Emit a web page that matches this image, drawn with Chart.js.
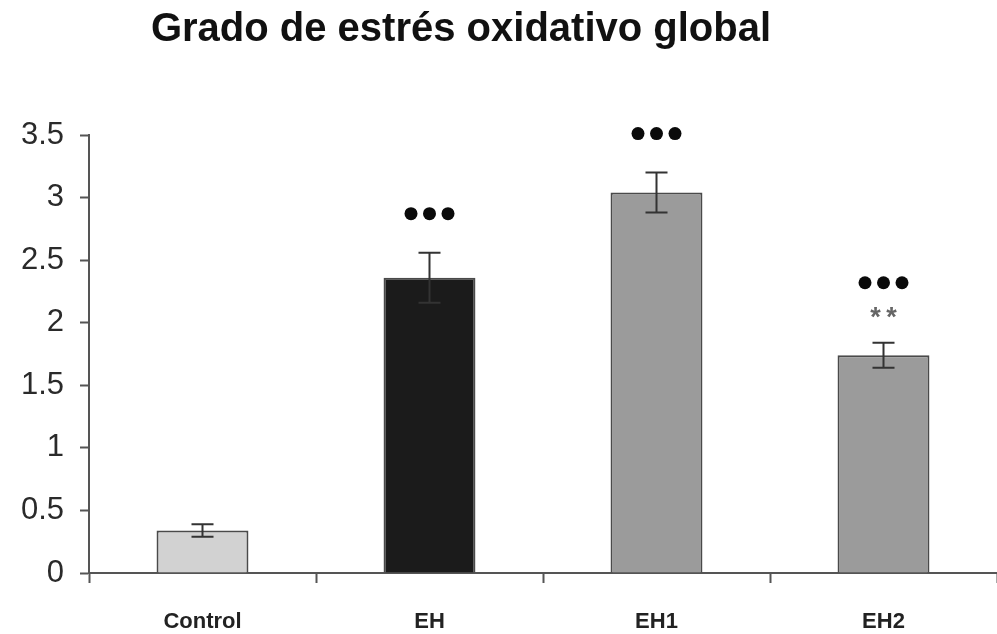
<!DOCTYPE html>
<html lang="es">
<head>
<meta charset="utf-8">
<title>Grado de estrés oxidativo global</title>
<script src="https://cdn.jsdelivr.net/npm/chart.js@4.4.1/dist/chart.umd.min.js"></script>
<style>
  html, body { margin: 0; padding: 0; background: #ffffff; }
  #wrap { width: 997px; height: 634px; position: relative; }
</style>
</head>
<body>
<div id="wrap"><canvas id="grafico" width="997" height="634"></canvas></div>
<script>
// Grupos y valores medios del índice de estrés oxidativo
const grupos = ['Control', 'EH', 'EH1', 'EH2'];
const medias = [0.34, 2.36, 3.04, 1.74];
const errores = [0.05, 0.20, 0.16, 0.10];
const coloresBarra = ['#d2d2d2', '#1b1b1b', '#9b9b9b', '#9b9b9b'];
// Marcas de significación sobre cada barra
const puntosSig = [0, 3, 3, 3];
const asteriscosSig = ['', '', '', '**'];
const titulo = 'Grado de estrés oxidativo global';
const marcasEjeY = [0, 0.5, 1, 1.5, 2, 2.5, 3, 3.5];

const FUENTE = "'Liberation Sans', Arial, Helvetica, sans-serif";

// Título del gráfico
const pluginTitulo = {
  id: 'tituloGrafico',
  afterDraw(chart) {
    const ctx = chart.ctx;
    ctx.save();
    ctx.font = 'bold 40px ' + FUENTE;
    ctx.fillStyle = '#111111';
    ctx.textAlign = 'center';
    ctx.textBaseline = 'alphabetic';
    ctx.fillText(titulo, 461, 41);
    ctx.restore();
  }
};

// Barras de error (media ± error)
const pluginErrores = {
  id: 'barrasError',
  afterDatasetsDraw(chart) {
    const ctx = chart.ctx;
    const y = chart.scales.y;
    const meta = chart.getDatasetMeta(0);
    ctx.save();
    ctx.strokeStyle = '#333333';
    ctx.lineWidth = 2;
    meta.data.forEach((barra, i) => {
      const x = barra.x;
      const yAlto = y.getPixelForValue(medias[i] + errores[i]);
      const yBajo = y.getPixelForValue(medias[i] - errores[i]);
      const semi = 11;
      ctx.beginPath();
      ctx.moveTo(x, yAlto); ctx.lineTo(x, yBajo);
      ctx.moveTo(x - semi, yAlto); ctx.lineTo(x + semi, yAlto);
      ctx.moveTo(x - semi, yBajo); ctx.lineTo(x + semi, yBajo);
      ctx.stroke();
    });
    ctx.restore();
  }
};

// Puntos y asteriscos de significación
const pluginSignificacion = {
  id: 'significacion',
  afterDatasetsDraw(chart) {
    const ctx = chart.ctx;
    const y = chart.scales.y;
    const meta = chart.getDatasetMeta(0);
    ctx.save();
    meta.data.forEach((barra, i) => {
      const x = barra.x;
      const yAlto = y.getPixelForValue(medias[i] + errores[i]);
      let yPuntos = yAlto - 39;
      if (asteriscosSig[i]) {
        const yAst = yAlto - 32;
        ctx.fillStyle = '#666666';
        ctx.font = 'bold 27px ' + FUENTE;
        ctx.textAlign = 'center';
        ctx.textBaseline = 'alphabetic';
        const chars = asteriscosSig[i].split('');
        const paso = 16;
        chars.forEach((c, k) => {
          const cx = x + (k - (chars.length - 1) / 2) * paso;
          ctx.fillText(c, cx, yAst + 15);
        });
        yPuntos = yAlto - 60;
      }
      const n = puntosSig[i];
      ctx.fillStyle = '#0a0a0a';
      for (let k = 0; k < n; k++) {
        const cx = x + (k - (n - 1) / 2) * 18.5;
        ctx.beginPath();
        ctx.arc(cx, yPuntos, 6.5, 0, Math.PI * 2);
        ctx.fill();
      }
    });
    ctx.restore();
  }
};

new Chart(document.getElementById('grafico'), {
  type: 'bar',
  data: {
    labels: grupos,
    datasets: [{
      data: medias,
      backgroundColor: coloresBarra,
      borderColor: '#4a4a4a',
      borderWidth: 2,
      borderSkipped: 'bottom',
      barPercentage: 0.405,
      categoryPercentage: 1.0
    }]
  },
  options: {
    responsive: false,
    animation: false,
    devicePixelRatio: 1,
    layout: { padding: { top: 135, right: 0, bottom: 0, left: 0 } },
    plugins: {
      legend: { display: false },
      title: { display: false },
      tooltip: { enabled: false }
    },
    scales: {
      x: {
        offset: true,
        border: { display: true, color: '#555555', width: 2 },
        grid: {
          offset: true,
          drawOnChartArea: false,
          drawTicks: true,
          tickLength: 10,
          tickWidth: 2,
          tickColor: '#555555'
        },
        ticks: {
          color: '#222222',
          font: { family: FUENTE, size: 22, weight: 'bold' },
          padding: 26,
          maxRotation: 0
        },
        afterFit(scale) { scale.height = 61; }
      },
      y: {
        min: 0,
        max: 3.5,
        border: { display: true, color: '#555555', width: 2 },
        grid: {
          drawOnChartArea: false,
          drawTicks: true,
          tickLength: 9,
          tickWidth: 2,
          tickColor: '#555555'
        },
        afterBuildTicks(scale) {
          scale.ticks = marcasEjeY.map(v => ({ value: v }));
        },
        ticks: {
          color: '#2a2a2a',
          font: { family: FUENTE, size: 31 },
          padding: 16,
          callback: v => String(v)
        },
        afterFit(scale) { scale.width = 89; }
      }
    }
  },
  plugins: [pluginTitulo, pluginErrores, pluginSignificacion]
});
</script>
</body>
</html>
